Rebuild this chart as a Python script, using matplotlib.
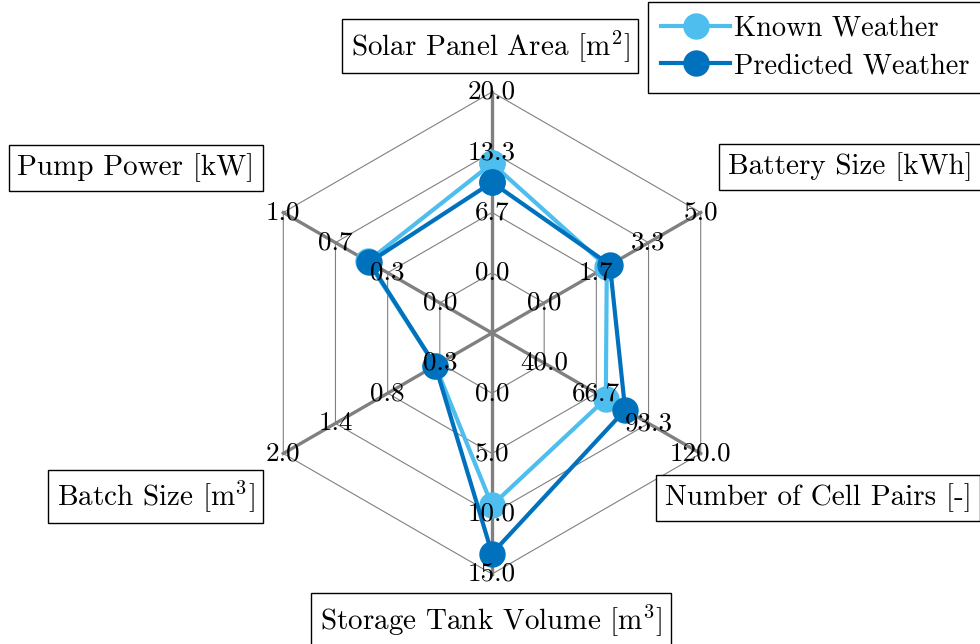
import numpy as np
import matplotlib
matplotlib.use('Agg')
import matplotlib.pyplot as plt

plt.rcParams['font.family'] = 'serif'
plt.rcParams['font.serif'] = ['cmr10']
plt.rcParams['mathtext.fontset'] = 'cm'
plt.rcParams['axes.formatter.use_mathtext'] = True

# axes of the radar chart, clockwise from the top
labels = ['Solar Panel Area [$\\mathrm{m}^2$]', 'Battery Size [kWh]',
          'Number of Cell Pairs [-]', 'Storage Tank Volume [$\\mathrm{m}^3$]',
          'Batch Size [$\\mathrm{m}^3$]', 'Pump Power [kW]']
range_min = [0.0, 0.0, 40.0, 0.0, 0.26, 0.0]
range_max = [20.0, 5.0, 120.0, 15.0, 2.0, 1.0]

known = [12.1, 2.0, 71.5, 9.3, 0.31, 0.46]
predicted = [10.0, 2.1, 81.4, 13.3, 0.31, 0.45]

c_known = '#4DBEEE'
c_pred = '#0072BD'

n_levels = 4
angles = np.deg2rad(90 - 60 * np.arange(len(labels)))


def to_xy(values):
    v = np.asarray(values, dtype=float)
    lo = np.asarray(range_min)
    hi = np.asarray(range_max)
    r = 1 + (n_levels - 1) * (v - lo) / (hi - lo)
    return r * np.cos(angles), r * np.sin(angles)


fig = plt.figure(figsize=(9.8, 6.44), dpi=100)
ax = fig.add_axes([181 / 980, 0, 622 / 980, 622 / 644])
lim = 311 / 60.25
ax.set_xlim(-lim, lim)
ax.set_ylim(-lim, lim)
ax.axis('off')

# hexagon grid
for lev in range(1, n_levels + 1):
    xs = lev * np.cos(np.append(angles, angles[0]))
    ys = lev * np.sin(np.append(angles, angles[0]))
    ax.plot(xs, ys, color='#808080', lw=0.8, zorder=1)

# spokes
for a in angles:
    ax.plot([0, n_levels * np.cos(a)], [0, n_levels * np.sin(a)],
            color='#808080', lw=2.4, zorder=2)

# data
for vals, col, name in [(known, c_known, 'Known Weather'),
                        (predicted, c_pred, 'Predicted Weather')]:
    x, y = to_xy(vals)
    ax.plot(np.append(x, x[0]), np.append(y, y[0]), color=col, lw=3,
            marker='o', markersize=18, label=name, zorder=3)

# tick labels on each spoke
for i, a in enumerate(angles):
    ticks = np.linspace(range_min[i], range_max[i], n_levels)
    for lev, t in enumerate(ticks, start=1):
        ax.text(lev * np.cos(a), lev * np.sin(a), f'{t:.1f}', fontsize=19.5,
                ha='center', va='center', zorder=5)

# boxed axis names
label_pos = [(-0.03, 4.76), (5.94, 2.76), (5.41, -2.74),
             (-0.02, -4.76), (-5.58, -2.71), (-5.91, 2.74)]
for name, (lx, ly) in zip(labels, label_pos):
    ax.text(lx, ly, name, fontsize=21, ha='center', va='center', zorder=6,
            bbox=dict(boxstyle='square,pad=0.3', fc='white', ec='black', lw=1),
            clip_on=False)

fig.legend(loc='upper left', bbox_to_anchor=(648 / 980, 1 - 2 / 644),
           fontsize=20.5, fancybox=False, framealpha=1, edgecolor='black',
           handlelength=2.4, borderaxespad=0, handletextpad=0.15,
           labelspacing=0.4, borderpad=0.47)

plt.savefig('out.png', dpi=100)
